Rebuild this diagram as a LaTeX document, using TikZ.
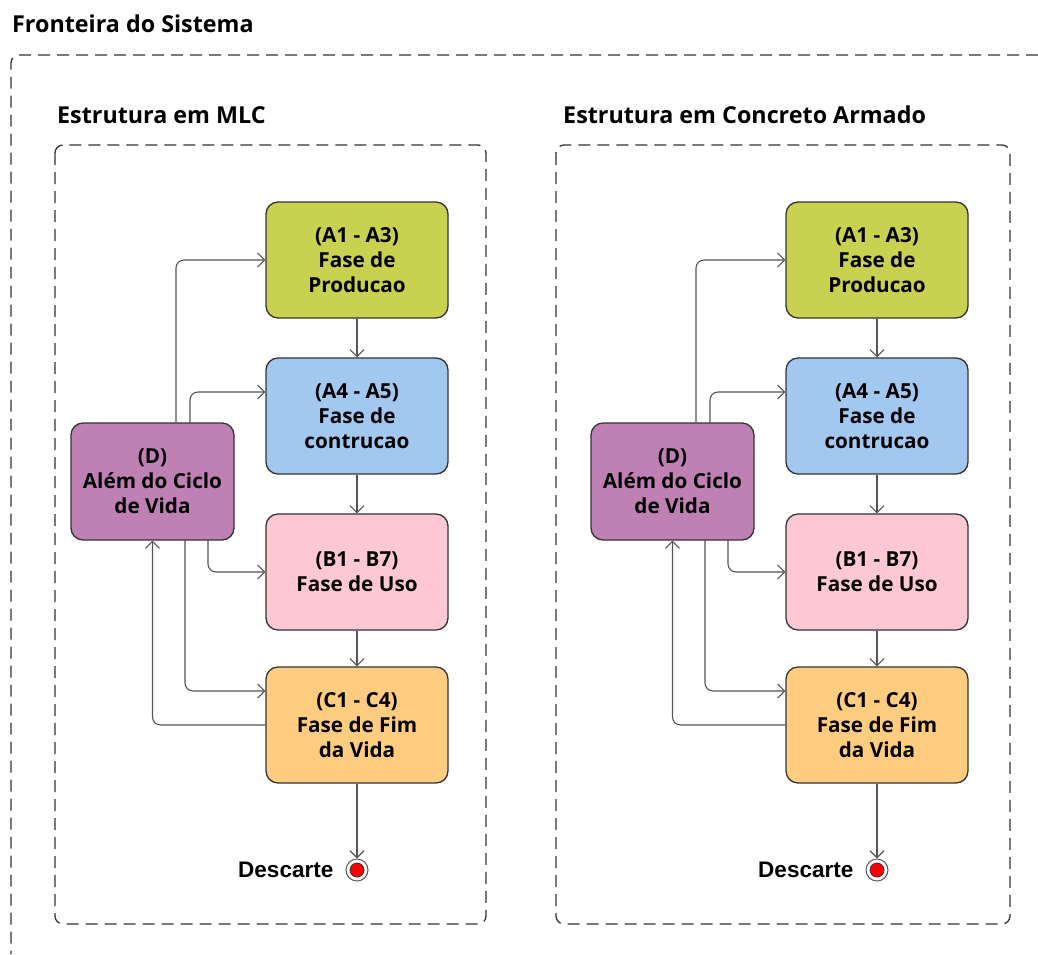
\documentclass[tikz,border=0pt]{standalone}
\usepackage{fontspec}
\setmainfont{Open Sans}
\newfontfamily\arialfont{Liberation Sans}
\usetikzlibrary{arrows.meta}
\definecolor{cA}{RGB}{201,209,80}
\definecolor{cB}{RGB}{162,200,240}
\definecolor{cC}{RGB}{255,200,212}
\definecolor{cE}{RGB}{255,204,128}
\definecolor{cD}{RGB}{191,128,180}
\definecolor{edge}{RGB}{51,51,51}
\definecolor{wire}{RGB}{85,85,85}
\tikzset{
  phase/.style={draw=edge, line width=1.3pt, rounded corners=12pt, minimum width=182pt, minimum height=116pt, inner sep=0pt, align=center, font=\fontsize{20.7}{25}\selectfont\bfseries, text=black},
  flow/.style={draw=wire, line width=1.1pt, rounded corners=8pt, -{Straight Barb[length=7pt,width=14pt,line width=1.1pt]}},
  frame/.style={draw=edge, line width=1.3pt, dash pattern=on 12pt off 7pt, rounded corners=8pt},
  ttl/.style={anchor=west, inner sep=0pt, font=\fontsize{23.3}{28}\selectfont\bfseries, text=black},
}
\begin{document}
\begin{tikzpicture}[x=1pt,y=-1pt]
\useasboundingbox (0,0) rectangle (1038,954);
% outer frame
\node[ttl] (sys) at (12,24) {Fronteira do Sistema};
\draw[frame] (1038,55) -- (11,55) -- (11,954);
% panels
\foreach \fx/\tx/\w/\t/\p in {55/57/431/Estrutura em MLC/L, 556/563/454/Estrutura em Concreto Armado/R}{
  \node[ttl] (title\p) at (\tx,115) {\t};
  \draw[frame] (\fx,145) rectangle ++(\w,779);
}
\foreach \ox/\p in {0/L, 520/R}{
  \begin{scope}[xshift=\ox pt]
  \node[phase, fill=cA] (A1\p) at (357,260) {(A1 - A3)\\Fase de\\Producao};
  \node[phase, fill=cB] (A4\p) at (357,416) {(A4 - A5)\\Fase de\\contrucao};
  \node[phase, fill=cC] (B1\p) at (357,572) {(B1 - B7)\\Fase de Uso};
  \node[phase, fill=cE] (C1\p) at (357,725) {(C1 - C4)\\Fase de Fim\\da Vida};
  \node[phase, fill=cD, minimum width=163pt, minimum height=117pt] (D\p) at (152.5,481.5) {(D)\\Além do Ciclo\\de Vida};
  \node[circle, draw=wire, fill=white, line width=1pt, minimum size=22pt, inner sep=0pt] (end\p) at (357,870) {};
  \node[circle, draw=edge, fill=red, line width=0.8pt, minimum size=14pt, inner sep=0pt] (endin\p) at (end\p) {};
  \node[anchor=east, inner sep=0pt, font=\arialfont\fontsize{22.5}{26}\selectfont\bfseries] (lbl\p) at ([xshift=-12pt]end\p.west) {Descarte};
  \draw[flow] (A1\p) -- (A4\p);
  \draw[flow] (A4\p) -- (B1\p);
  \draw[flow] (B1\p) -- (C1\p);
  \draw[flow] (C1\p) -- (end\p);
  \coordinate (d1\p) at (176,423);
  \coordinate (d2\p) at (190,423);
  \coordinate (d3\p) at (208,540);
  \coordinate (d4\p) at (185,540);
  \draw[flow] (d1\p) |- (A1\p.west);
  \draw[flow] (d2\p) |- ([yshift=24pt]A4\p.west);
  \draw[flow] (d3\p) |- (B1\p.west);
  \draw[flow] (d4\p) |- ([yshift=34pt]C1\p.west);
  \draw[flow] (C1\p.west) -| (D\p.south);
  \end{scope}
}
\end{tikzpicture}
\end{document}
